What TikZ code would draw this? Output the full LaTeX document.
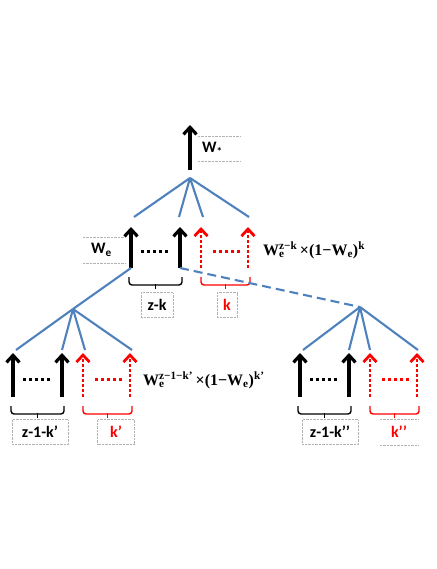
\documentclass[tikz,border=0pt]{standalone}
\usepackage{fontspec}
\setmainfont{Carlito}
\newfontfamily\timesfont{Liberation Serif}
\usepackage{tikz}
\usetikzlibrary{arrows.meta,positioning,calc}
\definecolor{edgeblue}{RGB}{79,129,189}
\tikzstyle{branch}=[edgeblue,line width=2.1pt]
\tikzstyle{good}=[black,line width=3.2pt,-{Straight Barb[length=7pt,width=13pt]}]
\tikzstyle{bad}=[red,line width=2.8pt,dash pattern=on 3pt off 2pt,-{Straight Barb[length=7pt,width=13pt]}]
\tikzstyle{blackdots}=[black,line width=3.4pt,dash pattern=on 3pt off 3pt]
\tikzstyle{reddots}=[red,line width=3.4pt,dash pattern=on 3pt off 3pt]
\tikzstyle{blackbrace}=[black,line width=1.4pt]
\tikzstyle{redbrace}=[red,line width=1.4pt]
\tikzstyle{tag}=[draw=gray!60,densely dotted,line width=0.4pt,font=\bfseries\fontsize{16}{16}\selectfont,minimum height=25pt,inner sep=2pt]
\tikzstyle{plain}=[font=\bfseries\fontsize{16}{16}\selectfont,minimum height=25pt,inner ysep=2pt]
\tikzstyle{tagline}=[draw=gray!60,densely dotted,line width=0.4pt]
\tikzstyle{formula}=[font=\timesfont\bfseries\fontsize{16}{16}\selectfont,anchor=west,inner sep=0pt]

% flat brace under two points: #1 style, #2 left, #3 right
\newcommand{\bracket}[3]{%
  \draw[#1,rounded corners=3pt] (#2) -- ($(#2)+(0,8)$) -- ($(#3)+(0,8)$) -- (#3);
  \draw[#1] ($(#2)!.5!(#3)+(0,7)$) -- ++(0,5);
}

% one row of four leaves: #1 name, #2 x of first arrow, #3 tip y, #4 base y
\newcommand{\leafrow}[4]{%
  \foreach \dx/\kind [count=\i] in {0/good,49/good,70/bad,117/bad}
    {\coordinate (#1b\i) at (#2+\dx,#4);
     \coordinate (#1t\i) at (#2+\dx,#3);
     \draw[\kind] (#1b\i) -- (#1t\i);}
  \coordinate (#1d) at ($(#1b1)!.4!(#1t1)$);
  \draw[blackdots] ($(#1d)+(10,0)$) -- ++(27,0);
  \draw[reddots] ($(#1d)+(82,0)$) -- ++(27,0);
  \coordinate (#1l1) at ($(#1b1)+(-2,9)$);
  \coordinate (#1r1) at ($(#1b2)+(2,9)$);
  \coordinate (#1l2) at ($(#1b3)+(0,9)$);
  \coordinate (#1r2) at ($(#1b4)+(2,9)$);
  \bracket{blackbrace}{#1l1}{#1r1}
  \bracket{redbrace}{#1l2}{#1r2}
}

\begin{document}
\begin{tikzpicture}[x=1pt,y=-1pt]
\useasboundingbox (0,0) rectangle (436,569);

% root arrow
\coordinate (top) at (190,125);
\coordinate (root) at (190,170);
\draw[good] (root) -- (top);
\node[plain,text width=34pt,inner xsep=4pt] (ws) at (219,149) {W\textsubscript{*}};
\draw[tagline] (ws.north west) -- (ws.north east);
\draw[tagline] (ws.south west) -- (ws.south east);

% middle level
\coordinate (R0) at (190,178);
\foreach \x [count=\i] in {134,179,203,249}{
  \coordinate (R\i) at (\x,217);
  \draw[branch] (R0) -- (R\i);
}
\leafrow{M}{131}{227}{268}
\node[plain,text width=26pt,inner xsep=8pt] (we) at (104,250) {W\textsubscript{e}};
\draw[tagline] (we.north west) -- (we.north east);
\draw[tagline] (we.south west) -- (we.south east);
\node[formula] (f1) at (263,250)
  {W\rlap{\textsubscript{e}}\textsuperscript{z−k}\,×(1−W\textsubscript{e})\textsuperscript{k}};
\node[tag,minimum width=32pt] (zk) at (157,305) {z-k};
\node[tag,minimum width=20pt,text=red] (k) at (227,305) {k};

% left subtree
\coordinate (L0) at (73,309);
\draw[branch] (Mb1) -- (L0);
\foreach \x [count=\i] in {16,62,85,132}{
  \coordinate (L\i) at (\x,350);
  \draw[branch] (L0) -- (L\i);
}
\leafrow{A}{13}{353}{397}
\node[formula] (f2) at (143,380)
  {W\rlap{\textsubscript{e}}\textsuperscript{z−1−k’}\,×(1−W\textsubscript{e})\textsuperscript{k’}};
\node[tag,minimum width=56pt] (zka) at (40,432) {z-1-k’};
\node[tag,minimum width=37pt,text=red] (ka) at (116,432) {k’};

% right subtree
\coordinate (S0) at (360,307);
\draw[branch,dash pattern=on 9pt off 5pt] (Mb2) -- (S0);
\foreach \x [count=\i] in {303,349,370,418}{
  \coordinate (S\i) at (\x,350);
  \draw[branch] (S0) -- (S\i);
}
\leafrow{B}{300}{353}{397}
\node[tag,minimum width=56pt] (zkb) at (330,432) {z-1-k’’};
\node[plain,minimum width=38pt,text=red] (kb) at (399,432) {k’’};
\draw[tagline] (kb.north west) -- (kb.north east);
\draw[tagline] (kb.south west) -- (kb.south east);
\end{tikzpicture}
\end{document}
